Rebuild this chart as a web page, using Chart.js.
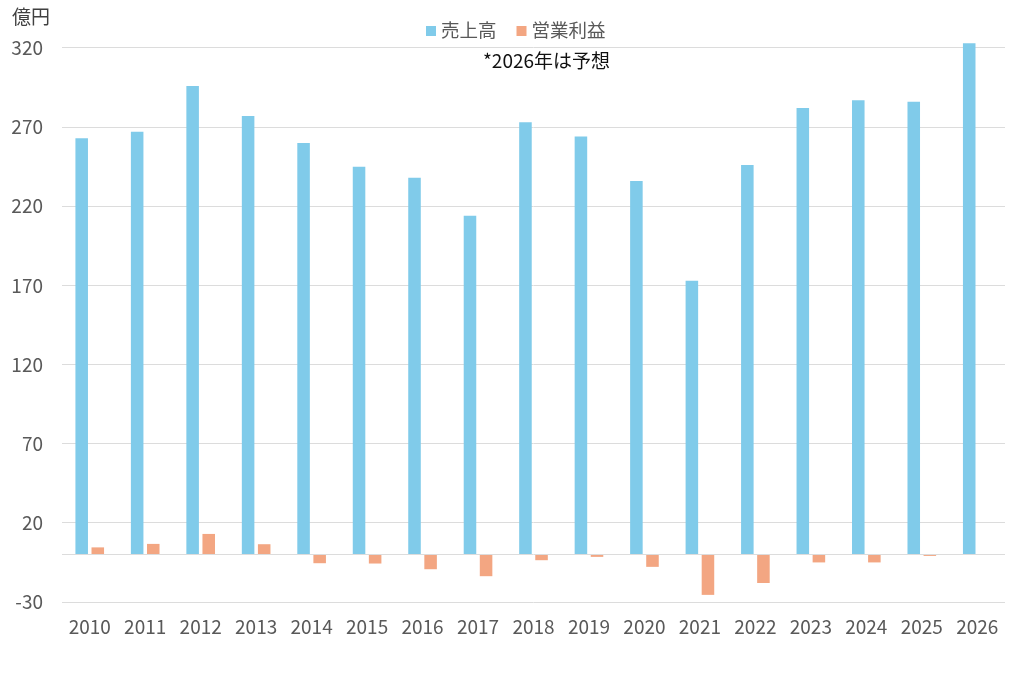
<!DOCTYPE html>
<html><head><meta charset="utf-8">
<script src="https://cdn.jsdelivr.net/npm/chart.js@4"></script>
<style>html,body{margin:0;padding:0;background:#fff}#wrap{width:1024px;height:694px}</style>
</head><body><div id="wrap"><canvas id="c"></canvas></div>
<script>
const categories = ['2010','2011','2012','2013','2014','2015','2016','2017','2018','2019','2020','2021','2022','2023','2024','2025','2026'];
const sales = [263, 267, 296, 277, 260, 245, 238, 214, 273, 264, 236, 173, 246, 282, 287, 286, 323];
const profit = [4.5, 6.7, 13, 6.5, -5.5, -5.7, -9.3, -13.7, -3.6, -1.5, -7.8, -25.5, -18, -5, -5, -0.9, null];
const yTicks = [-30, 0, 20, 70, 120, 170, 220, 270, 320];
const seriesNames = ['売上高', '営業利益'];
const unitLabel = '億円';
const noteText = '*2026年は予想';

const FONT = "'Noto Sans CJK JP', 'Noto Sans', sans-serif";
const textPlugin = {
  id: 'texts',
  afterDraw(chart) {
    const ctx = chart.ctx;
    ctx.save();
    ctx.textBaseline = 'middle';
    // unit label
    ctx.font = '19px ' + FONT;
    ctx.fillStyle = '#404040';
    ctx.textAlign = 'left';
    ctx.fillText(unitLabel, 12, 17);
    // legend
    ctx.font = '18.5px ' + FONT;
    let x = 426;
    chart.data.datasets.forEach((ds, i) => {
      ctx.fillStyle = ds.backgroundColor;
      ctx.fillRect(x, 26, 10, 10);
      x += 15;
      ctx.fillStyle = '#595959';
      ctx.fillText(ds.label, x, 30);
      x += ctx.measureText(ds.label).width + 20;
    });
    // note
    ctx.fillStyle = '#111';
    ctx.font = '19px ' + FONT;
    ctx.textAlign = 'left';
    ctx.fillText(noteText, 483, 61);
    ctx.restore();
  }
};

new Chart(document.getElementById('c'), {
  type: 'bar',
  data: {
    labels: categories,
    datasets: [
      { label: seriesNames[0], data: sales, backgroundColor: '#80CBEA', categoryPercentage: 0.58, barPercentage: 0.78 },
      { label: seriesNames[1], data: profit, backgroundColor: '#F3A682', categoryPercentage: 0.58, barPercentage: 0.78 }
    ]
  },
  options: {
    responsive: true,
    maintainAspectRatio: false,
    animation: false,
    layout: { padding: { left: 10, right: 19, top: 40, bottom: 56 } },
    plugins: {
      legend: { display: false },
      tooltip: { enabled: false }
    },
    scales: {
      x: {
        afterFit(scale) { scale.height = 36; },
        grid: { display: false, drawTicks: false },
        border: { display: false },
        ticks: { color: '#595959', font: { family: FONT, size: 19 }, padding: 13 }
      },
      y: {
        min: -30,
        max: 325,
        afterFit(scale) { scale.width = 52; },
        afterBuildTicks(scale) { scale.ticks = yTicks.map(v => ({ value: v })); },
        grid: { color: '#DCDCDC', lineWidth: 1, drawTicks: false },
        border: { display: false },
        ticks: {
          color: '#595959', font: { family: FONT, size: 19 }, padding: 19,
          callback: v => (v === 0 ? '' : String(v))
        }
      }
    }
  },
  plugins: [textPlugin]
});
</script></body></html>
